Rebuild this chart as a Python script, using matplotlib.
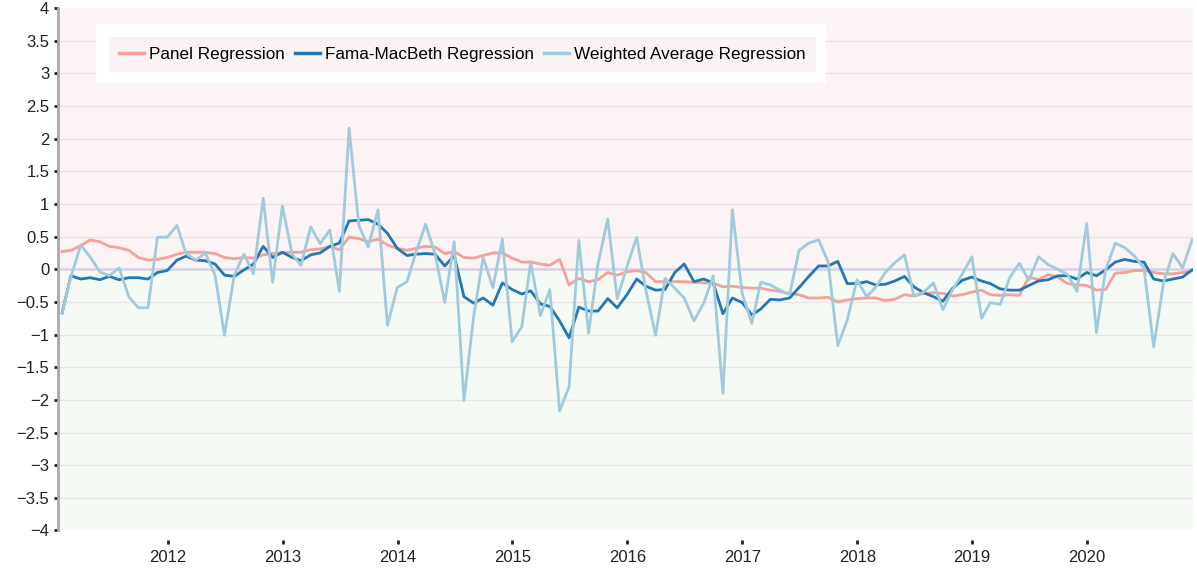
import numpy as np
import pandas as pd
import matplotlib
matplotlib.use('Agg')
import matplotlib.pyplot as plt
import matplotlib.dates as mdates
from matplotlib.patches import Rectangle
from matplotlib.ticker import FuncFormatter, MultipleLocator

plt.rcParams['font.family'] = ['Liberation Sans', 'DejaVu Sans']

# 月末日期 2011-01 .. 2020-11
dates = pd.date_range('2011-02-01', periods=119, freq='MS') - pd.Timedelta(days=1)

panel = [
    0.27, 0.29, 0.36, 0.45, 0.42, 0.35, 0.33, 0.29, 0.18, 0.14, 0.15, 0.18,
    0.23, 0.26, 0.26, 0.26, 0.24, 0.18, 0.16, 0.18, 0.17, 0.22, 0.24, 0.25,
    0.26, 0.26, 0.30, 0.31, 0.35, 0.30, 0.49, 0.47, 0.42, 0.46, 0.37, 0.32,
    0.29, 0.32, 0.35, 0.34, 0.24, 0.27, 0.18, 0.17, 0.21, 0.25, 0.25, 0.17,
    0.11, 0.11, 0.08, 0.06, 0.15, -0.24, -0.14, -0.19, -0.16, -0.05, -0.09, -0.04,
    -0.02, -0.05, -0.19, -0.19, -0.19, -0.19, -0.20, -0.21, -0.21, -0.27, -0.26, -0.28,
    -0.29, -0.29, -0.32, -0.34, -0.37, -0.39, -0.44, -0.44, -0.43, -0.50, -0.47, -0.45,
    -0.44, -0.44, -0.48, -0.46, -0.39, -0.41, -0.37, -0.36, -0.37, -0.41, -0.39, -0.35,
    -0.32, -0.39, -0.40, -0.39, -0.40, -0.12, -0.16, -0.08, -0.12, -0.22, -0.24, -0.25,
    -0.32, -0.31, -0.06, -0.05, -0.02, -0.02, -0.05, -0.07, -0.07, -0.05, -0.02,
]

fama_macbeth = [
    -0.67, -0.10, -0.15, -0.13, -0.16, -0.11, -0.16, -0.13, -0.13, -0.15, -0.05, -0.02,
    0.14, 0.20, 0.14, 0.13, 0.08, -0.09, -0.11, -0.01, 0.08, 0.35, 0.18, 0.26,
    0.18, 0.13, 0.22, 0.25, 0.35, 0.40, 0.74, 0.75, 0.76, 0.69, 0.55, 0.32,
    0.21, 0.23, 0.24, 0.23, 0.05, 0.21, -0.42, -0.52, -0.44, -0.55, -0.21, -0.31,
    -0.38, -0.33, -0.53, -0.57, -0.79, -1.05, -0.58, -0.64, -0.64, -0.45, -0.59, -0.39,
    -0.15, -0.26, -0.32, -0.31, -0.05, 0.08, -0.19, -0.15, -0.21, -0.68, -0.44, -0.51,
    -0.70, -0.61, -0.46, -0.47, -0.44, -0.28, -0.11, 0.05, 0.05, 0.12, -0.22, -0.22,
    -0.19, -0.24, -0.23, -0.18, -0.11, -0.27, -0.36, -0.42, -0.49, -0.29, -0.17, -0.12,
    -0.18, -0.22, -0.30, -0.32, -0.32, -0.25, -0.18, -0.16, -0.10, -0.10, -0.15, -0.05,
    -0.10, -0.01, 0.11, 0.15, 0.12, 0.11, -0.15, -0.18, -0.15, -0.12, -0.01,
]

weighted = [
    -0.67, -0.12, 0.37, 0.19, -0.04, -0.10, 0.02, -0.42, -0.59, -0.59, 0.49, 0.49,
    0.67, 0.24, 0.14, 0.25, -0.09, -1.01, -0.09, 0.23, -0.07, 1.09, -0.20, 0.97,
    0.23, 0.06, 0.65, 0.39, 0.60, -0.34, 2.16, 0.67, 0.34, 0.91, -0.86, -0.28,
    -0.19, 0.25, 0.69, 0.24, -0.51, 0.42, -2.01, -0.72, 0.18, -0.28, 0.46, -1.11,
    -0.88, 0.11, -0.71, -0.31, -2.17, -1.80, 0.44, -0.98, 0.08, 0.77, -0.45, 0.04,
    0.49, -0.32, -1.01, -0.14, -0.29, -0.44, -0.79, -0.52, -0.10, -1.90, 0.91, -0.37,
    -0.83, -0.20, -0.24, -0.32, -0.39, 0.29, 0.40, 0.45, 0.12, -1.17, -0.78, -0.16,
    -0.42, -0.28, -0.05, 0.10, 0.22, -0.41, -0.35, -0.21, -0.62, -0.31, -0.08, 0.19,
    -0.75, -0.51, -0.54, -0.13, 0.09, -0.17, 0.19, 0.07, 0.00, -0.08, -0.34, 0.70,
    -0.97, -0.01, 0.40, 0.33, 0.20, 0.02, -1.19, -0.21, 0.24, 0.02, 0.45,
]

series_names = ['Panel Regression', 'Fama-MacBeth Regression', 'Weighted Average Regression']
series_colors = ['#F4A09C', '#2377B3', '#A0CBDC']

fig = plt.figure(figsize=(11.97, 5.70), dpi=100)
ax = fig.add_axes([0.0482, 0.0693, 0.9485, 0.9167])

# 背景分区
ax.axhspan(0, 4, color='#FBF3F4', zorder=0, lw=0)
ax.axhspan(-4, 0, color='#F5FAF4', zorder=0, lw=0)
for yv in np.arange(-3.5, 4, 0.5):
    if yv != 0:
        ax.axhline(yv, color='#EAE4E6', lw=1.0, zorder=1)
ax.axhline(0, color='#DAD5E6', lw=2.0, zorder=1)

for vals, name, col in zip([panel, fama_macbeth, weighted], series_names, series_colors):
    ax.plot(dates, vals, color=col, lw=2.0, label=name, zorder=3)

ax.set_ylim(-4, 4)
ax.set_xlim(dates[0] - pd.Timedelta(days=14), dates[-1] + pd.Timedelta(days=3))
ax.yaxis.set_major_locator(MultipleLocator(0.5))
ax.yaxis.set_major_formatter(FuncFormatter(lambda v, p: ('%g' % v).replace('-', '\u2212')))
ax.xaxis.set_major_locator(mdates.YearLocator())
ax.xaxis.set_major_formatter(mdates.DateFormatter('%Y'))

for s in ['top', 'right']:
    ax.spines[s].set_visible(False)
ax.spines['left'].set_color('#AAAAAA')
ax.spines['left'].set_linewidth(2)
ax.spines['bottom'].set_position(('outward', 7))
ax.spines['bottom'].set_visible(False)
ax.tick_params(axis='y', length=3, width=2, color='#222222', labelsize=12, labelcolor='#222222', pad=3)
ax.tick_params(axis='x', length=3, width=2, color='#222222', labelsize=12, labelcolor='#222222', pad=4)

# 图例：白色外框 + 浅色底
ax.add_patch(Rectangle((0.0337, 0.856), 0.643, 0.113, transform=ax.transAxes,
                       facecolor='white', edgecolor='none', zorder=5))
leg = ax.legend(loc='upper left', bbox_to_anchor=(0.045, 0.944), ncol=3, fontsize=12.3,
                frameon=True, facecolor='#F9F3F4', edgecolor='none', framealpha=1,
                fancybox=False, handlelength=1.5, handletextpad=0.3, columnspacing=0.55,
                borderpad=0.58, borderaxespad=0)
leg.set_zorder(6)
for line in leg.get_lines():
    line.set_linewidth(2.5)

fig.savefig('out.png', dpi=100)
